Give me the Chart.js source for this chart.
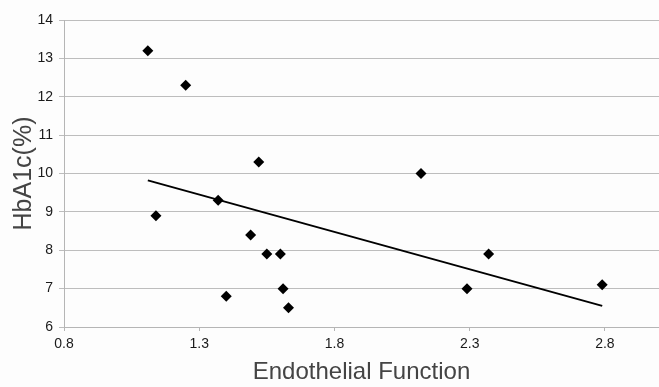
<!DOCTYPE html>
<html>
<head>
<meta charset="utf-8">
<script src="https://cdn.jsdelivr.net/npm/chart.js@4.4.0/dist/chart.umd.min.js"></script>
<style>
  html, body { margin: 0; padding: 0; background: #fdfdfd; }
  #wrap { width: 659px; height: 387px; }
</style>
</head>
<body>
<div id="wrap"><canvas id="scatter"></canvas></div>
<script>
// endothelial function (x) vs HbA1c % (y)
var endoX = [1.11, 1.25, 1.14, 1.37, 1.49, 1.40, 1.55, 1.60, 1.61, 1.63, 1.52, 2.12, 2.29, 2.37, 2.79];
var hbY   = [13.2, 12.3, 8.9, 9.3, 8.4, 6.8, 7.9, 7.9, 7.0, 6.5, 10.3, 10.0, 7.0, 7.9, 7.1];
// trend line end points
var trendX = [1.11, 2.79];
var trendY = [9.82, 6.55];
var xTicks = [0.8, 1.3, 1.8, 2.3, 2.8];
var yTicks = [6, 7, 8, 9, 10, 11, 12, 13, 14];

var pts = endoX.map(function(x, i) { return {x: x, y: hbY[i]}; });
var trend = trendX.map(function(x, i) { return {x: x, y: trendY[i]}; });

var ctx = document.getElementById('scatter').getContext('2d');
window.scatter = new Chart(ctx, {
    type: 'scatter',
    data: {
        datasets: [{
            data: pts,
            pointStyle: 'rectRot',
            pointRadius: 5.5,
            pointHoverRadius: 5.5,
            backgroundColor: '#000',
            borderColor: '#000',
            borderWidth: 0,
            order: 1
        }, {
            type: 'line',
            data: trend,
            borderColor: '#000',
            borderWidth: 2,
            pointRadius: 0,
            fill: false,
            order: 2
        }]
    },
    options: {
        responsive: true,
        maintainAspectRatio: false,
        animation: false,
        layout: { autoPadding: false, padding: { left: 0, right: 0, top: 20, bottom: 0 } },
        plugins: { legend: { display: false }, tooltip: { enabled: false } },
        scales: {
            x: {
                type: 'linear',
                min: 0.8,
                max: 3.0,
                afterBuildTicks: function(s) { s.ticks = xTicks.map(function(v) { return {value: v}; }); },
                afterFit: function(s) { s.height = 60; },
                ticks: {
                    color: '#1a1a1a',
                    font: { family: 'Liberation Sans', size: 14 },
                    padding: 5,
                    maxRotation: 0,
                    callback: function(v) { return v.toFixed(1); }
                },
                grid: { drawOnChartArea: false, drawTicks: true, tickLength: 4, color: '#b5b5b5' },
                border: { color: '#b5b5b5', width: 1 },
                title: {
                    display: true,
                    text: 'Endothelial Function',
                    color: '#444',
                    font: { family: 'Liberation Sans', size: 24 },
                    padding: { top: 7, bottom: 0 }
                }
            },
            y: {
                min: 6,
                max: 14,
                afterBuildTicks: function(s) { s.ticks = yTicks.map(function(v) { return {value: v}; }); },
                afterFit: function(s) { s.width = 64; },
                ticks: {
                    color: '#1a1a1a',
                    font: { family: 'Liberation Sans', size: 14 },
                    padding: 6
                },
                grid: { color: '#bdbdbd', tickLength: 5, drawTicks: true },
                border: { color: '#b5b5b5', width: 1 },
                title: {
                    display: true,
                    text: 'HbA1c(%)',
                    color: '#444',
                    font: { family: 'Liberation Sans', size: 25 },
                    padding: { top: 9, bottom: 0 }
                }
            }
        }
    }
});
</script>
</body>
</html>
